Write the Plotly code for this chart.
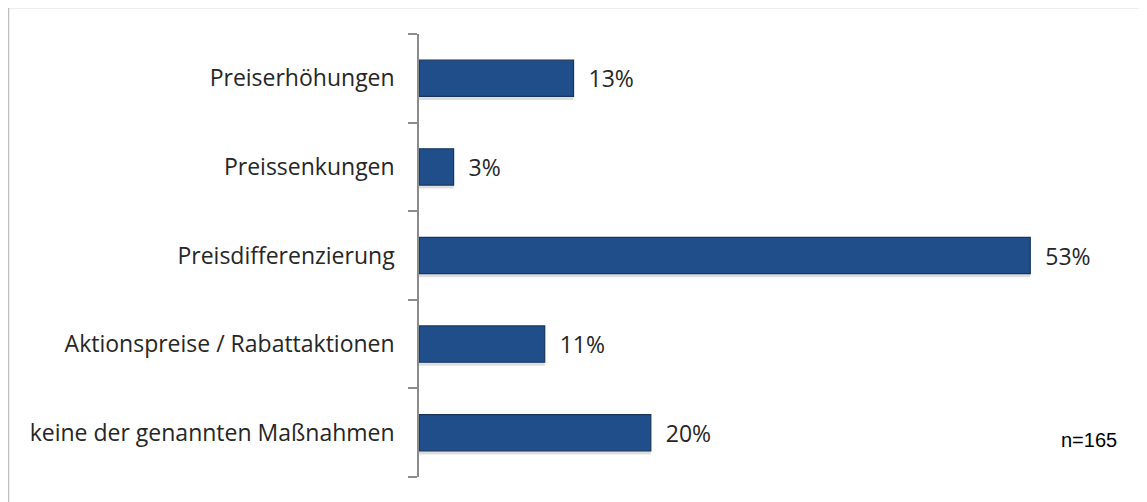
import plotly.graph_objects as go

categories = ["Preiserhöhungen", "Preissenkungen", "Preisdifferenzierung",
              "Aktionspreise / Rabattaktionen", "keine der genannten Maßnahmen"]
values = [13.4, 3.0, 53.0, 10.9, 20.1]
labels = ["13%", "3%", "53%", "11%", "20%"]
sample_note = "n=165"

W, H = 1147, 502
OFF = 8  # page body margin offset
L, R = 419 - OFF, 1111 - OFF
T, B = 34 - OFF, 477 - OFF
pw, ph = R - L, B - T

def px(x):
    return (x - OFF - L) / pw

def py(y):
    return (B - (y - OFF)) / ph

fig = go.Figure()
# soft shadow below bars
fig.add_trace(go.Bar(
    y=categories, x=values, orientation="h",
    width=0.41, offset=-0.245,
    marker=dict(color="rgba(0,0,0,0.13)", line=dict(width=0)),
    hoverinfo="skip",
))
fig.add_trace(go.Bar(
    y=categories, x=values, orientation="h",
    width=0.41, offset=-0.205,
    text=labels, textposition="outside",
    texttemplate="\u00a0\u00a0%{text}",
    textfont=dict(family="Open Sans", size=23, color="#262626"),
    marker=dict(color="#1F4E8A", line=dict(color="#16365F", width=1.2)),
    cliponaxis=False,
))

fig.update_layout(
    width=W, height=H,
    margin=dict(l=L, r=W - R, t=T, b=H - B),
    paper_bgcolor="white", plot_bgcolor="white",
    barmode="overlay",
    showlegend=False,
    xaxis=dict(range=[0, 60], visible=False, fixedrange=True),
    yaxis=dict(
        categoryorder="array", categoryarray=categories[::-1],
        showline=True, linecolor="#8C8C8C", linewidth=1.5,
        ticks="outside", tickson="boundaries", ticklen=9, tickcolor="#8C8C8C", tickwidth=1.5,
        tickfont=dict(family="Open Sans", size=23, color="#262626"),
        showgrid=False, zeroline=False, ticklabelstandoff=18,
        automargin=False,
    ),
    shapes=[dict(type="rect", xref="paper", yref="paper",
                 x0=px(8.5), x1=px(1140.5), y0=py(530), y1=py(7.5),
                 line=dict(color="#BFBFBF", width=1.5), layer="below")],
    annotations=[dict(text=sample_note, xref="paper", yref="paper",
                      x=px(1059), y=py(440), xanchor="left", yanchor="middle",
                      showarrow=False,
                      font=dict(family="Liberation Sans", size=20, color="#000000"))],
)

fig.write_html("out.html")
